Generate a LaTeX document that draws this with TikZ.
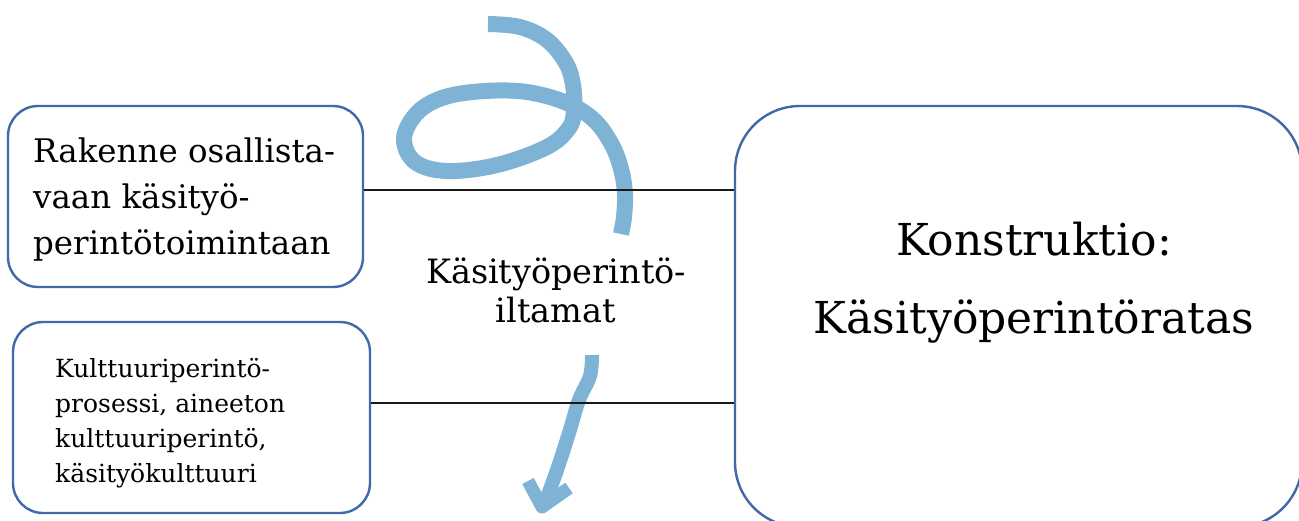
\documentclass[tikz,border=0pt]{standalone}
\usepackage{fontspec}
\setmainfont{DejaVu Serif}
\definecolor{boxblue}{RGB}{65,105,170}
\definecolor{penblue}{RGB}{127,179,214}
\begin{document}
\begin{tikzpicture}[x=1pt,y=-1pt,
  box/.style={draw=boxblue, line width=2.4pt, rounded corners=30pt, inner sep=0pt},
  bigbox/.style={box, rounded corners=65pt},
  conn/.style={draw=black!90, line width=2.4pt},
  pen/.style={draw=penblue, line width=16pt, line join=round},
  txt/.style={inner sep=0pt, text=black}]
\useasboundingbox (0,0) rectangle (1299,520);
\fill[white] (0,0) rectangle (1299,520);
% boxes
\node[box, minimum width=355pt, minimum height=181pt] (tl) at (185.5,196.5) {};
\node[box, minimum width=357pt, minimum height=191pt] (bl) at (191.5,417.5) {};
\node[bigbox, minimum width=567pt, minimum height=421pt] (R) at (1018.5,316.5) {};
% texts
\node[txt, anchor=west, align=left, font=\fontsize{32.5}{46}\selectfont] (tlt) at (33,200)
  {Rakenne osallista-\\vaan käsityö-\\perintötoimintaan};
\node[txt, anchor=west, align=left, font=\fontsize{25}{35}\selectfont] (blt) at (55,423.5)
  {Kulttuuriperintö-\\prosessi, aineeton\\kulttuuriperintö,\\käsityökulttuuri};
\node[txt, align=center, font=\fontsize{33.5}{39}\selectfont] (ct) at (556,290)
  {Käsityöperintö-\\iltamat};
\node[txt, align=center, font=\fontsize{44}{78}\selectfont] (rt) at (1034,282.5)
  {Konstruktio:\\Käsityöperintöratas};
% hand-drawn pen strokes
\draw[pen] plot[smooth, tension=0.6] coordinates {(488,24) (520,27) (547,40) (566,63) (573,85) (574,110) (569,128) (547,147) (497,165) (447,171) (415,162) (404,138) (418,112) (445,97) (485,91) (527,92) (567,103) (595,121) (613,147) (622,173) (625,195) (624,217) (621,234)};
\draw[pen, line width=14pt] plot[smooth, tension=0.6] coordinates {(592,355) (590,376) (579,400) (569,433) (558,467) (549,492) (543,505)};
\draw[pen, line width=13pt] (528,481) -- (542,507) -- (569,488);
% connectors
\draw[conn] ([yshift=6.5pt]tl.east) coordinate (a1) -- (a1 -| R.west);
\draw[conn] ([yshift=14.5pt]bl.east) coordinate (a2) -- (a2 -| R.west);
\end{tikzpicture}
\end{document}
